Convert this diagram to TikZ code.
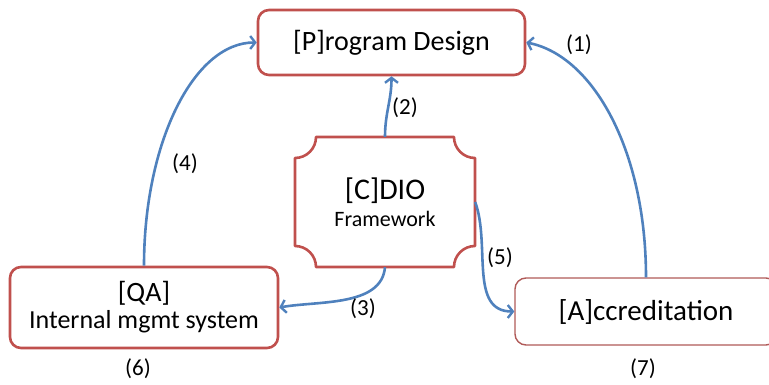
\documentclass[tikz,border=0pt]{standalone}
\usepackage{fontspec}
\setmainfont{Carlito}
\usetikzlibrary{arrows.meta}
\definecolor{boxred}{HTML}{C0504D}
\definecolor{accred}{HTML}{B05A58}
\definecolor{arrblue}{HTML}{4F81BD}
\tikzset{
  box/.style={draw=boxred, line width=2.6pt, rounded corners=11pt, fill=white, align=center, inner sep=0pt},
  conn/.style={draw=arrblue, line width=2.6pt, -{Straight Barb[length=5pt,width=13pt,line width=2.4pt]}},
  lbl/.style={font=\fontsize{23}{26}\selectfont, inner sep=0pt}
}
\begin{document}
\begin{tikzpicture}[x=1pt,y=-1pt]
\useasboundingbox (0,0) rectangle (769,385);
% nodes
\node[box, minimum width=267pt, minimum height=65pt, font=\fontsize{28}{30}\selectfont] (prog) at (391.5,42.5) {[P]rogram Design};
\node[box, minimum width=268pt, minimum height=81pt, font=\fontsize{26}{27}\selectfont] (qa) at (144,307.5)
  {{\fontsize{28}{27}\selectfont [QA]}\\Internal mgmt system};
\node[box, draw=accred, line width=1.4pt, minimum width=262pt, minimum height=67pt, font=\fontsize{29}{30}\selectfont] (acc) at (646,311.5) {[A]ccreditation};
\node[minimum width=180pt, minimum height=130pt, inner sep=0pt, align=center, font=\fontsize{22}{27}\selectfont] (cdio) at (385,202)
  {{\fontsize{30}{27}\selectfont [C]DIO}\\Framework};
% CDIO plaque outline
\draw[draw=boxred, line width=2.6pt, line join=round]
  (316,137) -- (454,137) arc[start angle=180, end angle=90, radius=21]
  -- (475,246) arc[start angle=270, end angle=180, radius=21]
  -- (316,267) arc[start angle=0, end angle=-90, radius=21]
  -- (295,158) arc[start angle=90, end angle=0, radius=21] -- cycle;
% connectors
\draw[conn] (cdio.north) to[out=90, in=-90] (prog.south);
\draw[conn] (qa.north) .. controls +(0,-123) and +(-63,0) .. (prog.west);
\draw[conn] (acc.north) .. controls +(0,-128) and +(66,13) .. (prog.east);
\draw[conn] (cdio.south) to[out=-95, in=10, looseness=0.9] (qa.east);
\draw[conn] (cdio.east) to[out=-70, in=180, looseness=1.0] (acc.west);
% labels
\node[lbl] (l1) at (579,45) {(1)};
\node[lbl] (l2) at (405,108) {(2)};
\node[lbl] (l3) at (363,309) {(3)};
\node[lbl] (l4) at (185,164) {(4)};
\node[lbl] (l5) at (500,258) {(5)};
\node[lbl] (l6) at (138,369) {(6)};
\node[lbl] (l7) at (643,369) {(7)};
\end{tikzpicture}
\end{document}
